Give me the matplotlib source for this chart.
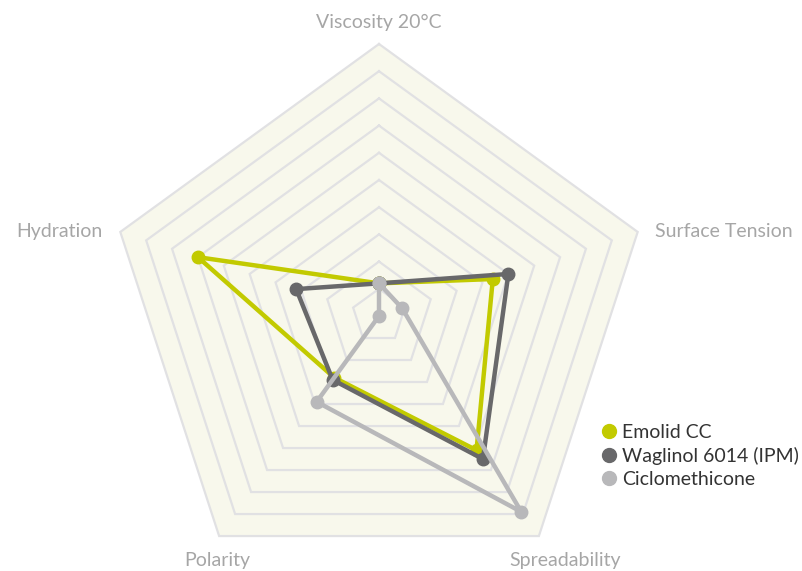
import numpy as np
import matplotlib
matplotlib.use("Agg")
from matplotlib import pyplot as plt
from matplotlib.lines import Line2D
from matplotlib.patches import Polygon

plt.rcParams['font.family'] = ['Lato', 'DejaVu Sans']

axes_labels = ['Viscosity 20°C', 'Surface Tension', 'Spreadability', 'Polarity', 'Hydration']
series_names = ['Emolid CC', 'Waglinol 6014 (IPM)', 'Ciclomethicone']
emolid = [1.2, 4.4, 6.1, 2.8, 7.0]
waglinol = [1.2, 5.0, 6.5, 2.9, 3.2]
ciclo = [1.2, 0.9, 8.9, 3.9, 0.0]
colors = ['#c2ca00', '#68686a', '#b8b8ba']
levels = np.arange(1, 11)
rmax = 10

n = len(axes_labels)
ang = np.pi / 2 - np.arange(n) * 2 * np.pi / n

def xy(r):
    r = np.asarray(r, dtype=float)
    return r * np.cos(ang), r * np.sin(ang)

W, H = 802, 571
fig = plt.figure(figsize=(W / 100, H / 100), dpi=100)
ax = fig.add_axes([0, 0, 1, 1])
# centre at pixel (379, 316), 27.2 px per unit
s = 27.2
ax.set_xlim(-379 / s, (W - 379) / s)
ax.set_ylim(-(H - 316) / s, 316 / s)
ax.axis('off')

ox, oy = xy(np.full(n, rmax))
ax.add_patch(Polygon(np.column_stack([ox, oy]), closed=True,
                     facecolor='#f8f8ec', edgecolor='none', zorder=0))
for lv in levels:
    gx, gy = xy(np.full(n, lv))
    ax.plot(np.append(gx, gx[0]), np.append(gy, gy[0]), color='#e1e1e3',
            lw=1.6, zorder=1, solid_joinstyle='miter')

for i, vals in enumerate([emolid, waglinol, ciclo]):
    px, py = xy(vals)
    ax.plot(np.append(px, px[0]), np.append(py, py[0]), color=colors[i],
            lw=3.2, marker='o', ms=9, zorder=3 + i, solid_joinstyle='round')

offsets = [(0, 22, 'center'), (17, 0, 'left'), (26, -24, 'center'),
           (-2, -24, 'center'), (-18, 0, 'right')]
for k, lab in enumerate(axes_labels):
    dx, dy, ha = offsets[k]
    ax.annotate(lab, (ox[k], oy[k]), xytext=(dx, dy), textcoords='offset pixels',
                ha=ha, va='center', fontsize=14, color='#a6a6a6')

handles = [Line2D([], [], ls='none', marker='o', ms=10, color=c) for c in colors]
leg = fig.legend(handles, series_names, loc='upper left',
                 bbox_to_anchor=(604 / W, 1 - 424 / H), frameon=False,
                 fontsize=14, handlelength=0.5, handletextpad=0.45,
                 labelspacing=0.3, borderpad=0, borderaxespad=0)
for t in leg.get_texts():
    t.set_color('#333333')

plt.savefig('out.png', dpi=100)
